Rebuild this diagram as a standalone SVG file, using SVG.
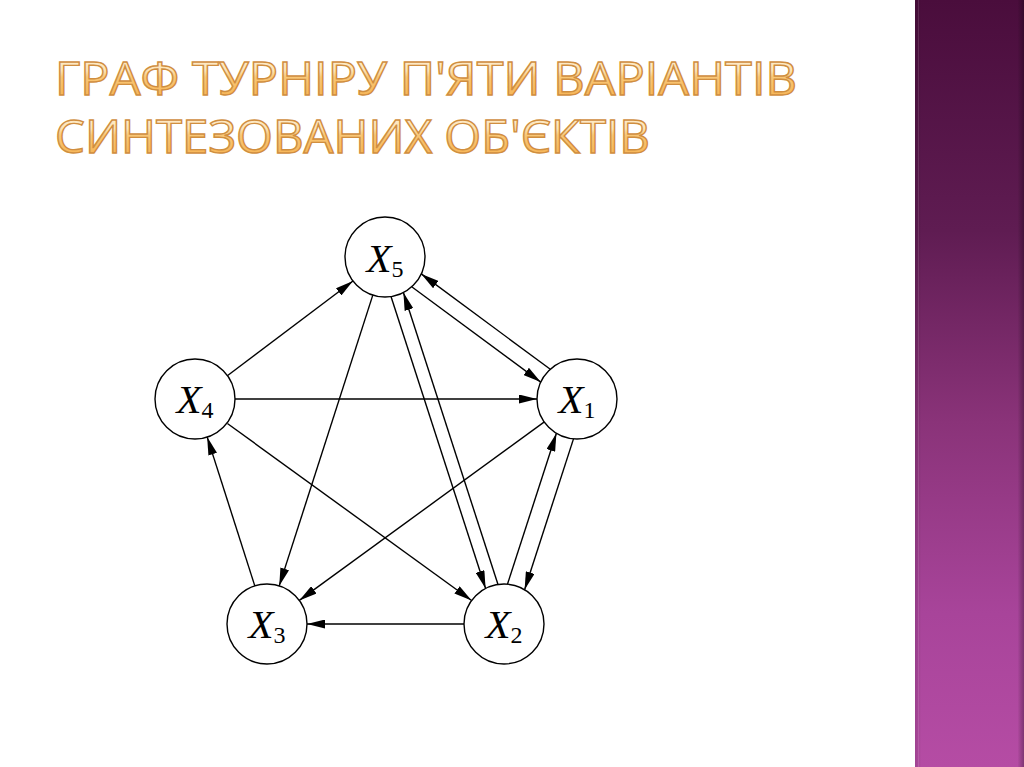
<svg xmlns="http://www.w3.org/2000/svg" width="1024" height="767" viewBox="0 0 1024 767">
<defs>
<linearGradient id="bar" x1="0" y1="0" x2="0" y2="1">
<stop offset="0" stop-color="#4a0d3c"/>
<stop offset="0.3" stop-color="#5f1c52"/>
<stop offset="0.55" stop-color="#8a3379"/>
<stop offset="0.8" stop-color="#a8449a"/>
<stop offset="1" stop-color="#b54ca4"/>
</linearGradient>
<linearGradient id="barShade" x1="0" y1="0" x2="1" y2="0">
<stop offset="0" stop-color="#000" stop-opacity="0.12"/>
<stop offset="0.06" stop-color="#000" stop-opacity="0"/>
<stop offset="0.94" stop-color="#000" stop-opacity="0"/>
<stop offset="1" stop-color="#000" stop-opacity="0.3"/>
</linearGradient>
<linearGradient id="gold" x1="0" y1="0" x2="0" y2="1">
<stop offset="0" stop-color="#fff8ea"/>
<stop offset="0.4" stop-color="#fde3b4"/>
<stop offset="0.5" stop-color="#f9c777"/>
<stop offset="1" stop-color="#f5ab44"/>
</linearGradient>
<marker id="arr" markerUnits="userSpaceOnUse" markerWidth="18" markerHeight="9" refX="18" refY="4.5" orient="auto">
<path d="M0,0 L18,4.5 L0,9 z" fill="#000"/>
</marker>
<style>
.title{font-family:"Open Sans","DejaVu Sans",sans-serif;font-size:46px;font-weight:500;fill:url(#gold);stroke:#d08e40;stroke-width:1.4;}
.node circle{fill:#fff;stroke:#000;stroke-width:1.4;}
.lbl{font-family:"Liberation Serif","Times New Roman",serif;font-size:41px;font-style:italic;fill:#000;}
.sub{font-style:normal;font-size:24px;}
#edges line{stroke:#000;stroke-width:1.4;marker-end:url(#arr);}
</style>
</defs>
<rect width="1024" height="767" fill="#fff"/>
<g id="sidebar">
<rect x="915" y="0" width="109" height="767" fill="url(#bar)"/>
<rect x="915" y="0" width="109" height="767" fill="url(#barShade)"/>
<line x1="918.5" y1="0" x2="918.5" y2="767" stroke="#fff" stroke-opacity="0.12" stroke-width="1"/>
</g>
<g id="title">
<text class="title" x="55" y="95" textLength="742" lengthAdjust="spacingAndGlyphs">ГРАФ ТУРНІРУ П'ЯТИ ВАРІАНТІВ</text>
<text class="title" x="55" y="153" textLength="595" lengthAdjust="spacingAndGlyphs">СИНТЕЗОВАНИХ ОБ'ЄКТІВ</text>
</g>
<g id="edges">
<line x1="227" y1="376" x2="353" y2="281"/>
<line x1="235" y1="399" x2="537" y2="399"/>
<line x1="227.4" y1="423.5" x2="471.6" y2="600.5"/>
<line x1="254.8" y1="585.9" x2="207.2" y2="437.1"/>
<line x1="372.8" y1="295.1" x2="279.2" y2="585.9"/>
<line x1="544.7" y1="421.6" x2="299.3" y2="600.4"/>
<line x1="464" y1="624" x2="307" y2="624"/>
<line x1="550.3" y1="369.3" x2="421.3" y2="273.9"/>
<line x1="411.7" y1="286.7" x2="540.7" y2="382.1"/>
<line x1="391" y1="296.5" x2="485.6" y2="588.5"/>
<line x1="498" y1="584.5" x2="403.4" y2="292.5"/>
<line x1="507.5" y1="584.1" x2="556.4" y2="433.3"/>
<line x1="573.5" y1="438.9" x2="524.6" y2="589.7"/>
</g>
<g id="X5" class="node"><circle cx="385" cy="257" r="40"/><text class="lbl" x="385" y="272" text-anchor="middle">X<tspan class="sub" dy="5">5</tspan></text></g>
<g id="X4" class="node"><circle cx="195" cy="399" r="40"/><text class="lbl" x="195" y="413" text-anchor="middle">X<tspan class="sub" dy="5">4</tspan></text></g>
<g id="X1" class="node"><circle cx="577" cy="399" r="40"/><text class="lbl" x="577" y="413" text-anchor="middle">X<tspan class="sub" dy="5">1</tspan></text></g>
<g id="X3" class="node"><circle cx="267" cy="624" r="40"/><text class="lbl" x="267" y="638" text-anchor="middle">X<tspan class="sub" dy="5">3</tspan></text></g>
<g id="X2" class="node"><circle cx="504" cy="624" r="40"/><text class="lbl" x="504" y="638" text-anchor="middle">X<tspan class="sub" dy="5">2</tspan></text></g>
</svg>
